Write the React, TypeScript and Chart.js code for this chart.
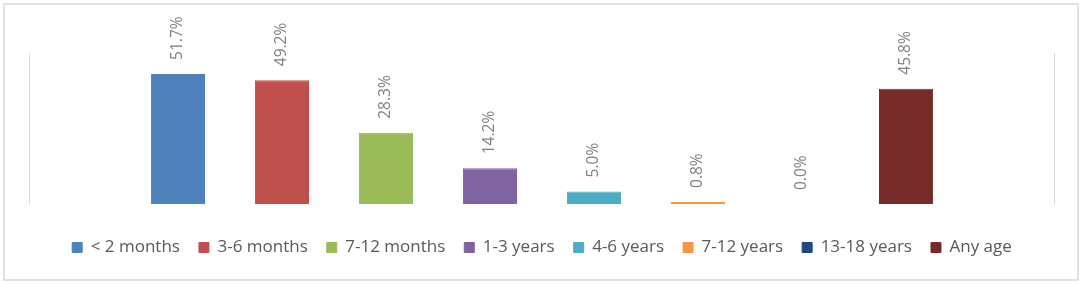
import React, { useEffect, useRef } from "react";
import { Chart, registerables } from "chart.js";

Chart.register(...registerables);

const categories: string[] = [""];
const seriesNames: string[] = [
  "< 2 months",
  "3-6 months",
  "7-12 months",
  "1-3 years",
  "4-6 years",
  "7-12 years",
  "13-18 years",
  "Any age",
];
const seriesValues: number[] = [51.7, 49.2, 28.3, 14.2, 5.0, 0.8, 0.0, 45.8];
const seriesColors: string[] = [
  "#4F81BD",
  "#C0504D",
  "#9BBB59",
  "#8064A2",
  "#4BACC6",
  "#F79646",
  "#1F497D",
  "#772C2A",
];
const yMin = 0;
const yMax = 60;

const FONT = "'Open Sans', 'Noto Sans', sans-serif";

const decorPlugin = {
  id: "decor",
  beforeDraw(chart: any) {
    const { ctx, chartArea } = chart;
    ctx.save();
    ctx.fillStyle = "#ffffff";
    ctx.fillRect(0, 0, chart.width, chart.height);
    ctx.strokeStyle = "#d9d9d9";
    ctx.lineWidth = 1.5;
    ctx.strokeRect(4, 4, chart.width - 10, chart.height - 9);
    ctx.strokeStyle = "#d9d9d9";
    ctx.lineWidth = 1;
    const l = Math.round(chartArea.left) + 0.5;
    const r = Math.round(chartArea.right) - 0.5;
    ctx.beginPath();
    ctx.moveTo(l, chartArea.top);
    ctx.lineTo(l, chartArea.bottom);
    ctx.moveTo(r, chartArea.top);
    ctx.lineTo(r, chartArea.bottom);
    ctx.stroke();
    ctx.restore();
  },
};

const labelPlugin = {
  id: "barLabels",
  afterDatasetsDraw(chart: any) {
    const { ctx } = chart;
    ctx.save();
    ctx.fillStyle = "#7f7f7f";
    ctx.font = `15.5px ${FONT}`;
    ctx.textAlign = "left";
    ctx.textBaseline = "middle";
    chart.data.datasets.forEach((ds: any, i: number) => {
      const meta = chart.getDatasetMeta(i);
      meta.data.forEach((el: any, j: number) => {
        const v = ds.data[j];
        const text = `${v.toFixed(1)}%`;
        ctx.save();
        ctx.translate(el.x, el.y - 14);
        ctx.rotate(-Math.PI / 2);
        ctx.fillText(text, 0, 0);
        ctx.restore();
      });
    });
    ctx.restore();
  },
};

export default function App() {
  const ref = useRef<HTMLCanvasElement | null>(null);

  useEffect(() => {
    if (!ref.current) return;
    const chart = new Chart(ref.current, {
      type: "bar",
      data: {
        labels: categories,
        datasets: seriesNames.map((name, i) => ({
          label: name,
          data: [seriesValues[i]],
          backgroundColor: seriesColors[i],
          borderColor: seriesColors[i],
          borderWidth: 1,
          categoryPercentage: 0.811,
          barPercentage: 0.52,
        })),
      },
      options: {
        responsive: false,
        animation: false,
        layout: { padding: { left: 29, right: 29, top: 53, bottom: 19 } },
        scales: {
          x: {
            display: true,
            grid: { display: false, drawTicks: false },
            border: { display: false },
            ticks: { display: true, font: { size: 10 }, padding: 2, color: "rgba(0,0,0,0)" },
          },
          y: { display: false, min: yMin, max: yMax },
        },
        plugins: {
          tooltip: { enabled: false },
          legend: {
            position: "bottom",
            labels: {
              boxWidth: 10,
              boxHeight: 10,
              padding: 19,
              color: "#595959",
              font: { family: FONT, size: 17 },
            },
          },
        },
      },
      plugins: [decorPlugin, labelPlugin],
    });
    return () => chart.destroy();
  }, []);

  return (
    <div style={{ position: "absolute", left: 0, top: 0, width: 1084, height: 285 }}>
      <canvas ref={ref} width={1084} height={285} style={{ width: 1084, height: 285 }} />
    </div>
  );
}
